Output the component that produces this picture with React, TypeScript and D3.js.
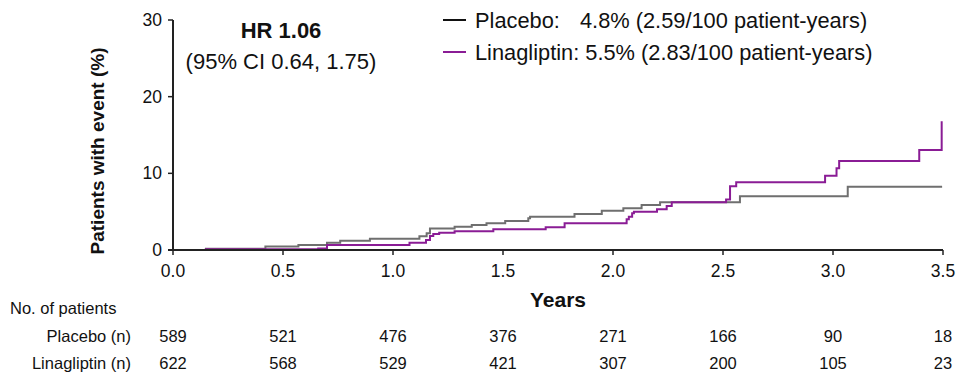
import React from "react";
import * as d3 from "d3";

const placeboTimes = [0.145, 0.42, 0.57, 0.70, 0.76, 0.895, 1.12, 1.153, 1.168, 1.28, 1.358, 1.425, 1.51, 1.615, 1.623, 1.825, 1.949, 2.047, 2.13, 2.214, 2.577, 3.067, 3.496];
const placeboPct = [0.15, 0.45, 0.65, 0.95, 1.2, 1.48, 1.8, 2.2, 2.8, 3.04, 3.26, 3.48, 3.78, 4.13, 4.35, 4.7, 5.13, 5.45, 5.87, 6.22, 7.0, 8.26, 8.26];

const linaTimes = [0.145, 0.66, 0.70, 1.075, 1.15, 1.168, 1.183, 1.21, 1.28, 1.456, 1.694, 1.78, 2.062, 2.072, 2.087, 2.095, 2.2, 2.244, 2.267, 2.514, 2.532, 2.56, 2.964, 3.016, 3.028, 3.392, 3.494];
const linaPct = [0.1, 0.2, 0.65, 0.96, 1.3, 1.83, 2.1, 2.26, 2.45, 2.7, 2.96, 3.5, 4.0, 4.35, 4.78, 5.0, 5.3, 5.74, 6.22, 6.6, 8.3, 8.85, 9.7, 10.65, 11.6, 13.04, 16.8];

const xTicks = [0, 0.5, 1.0, 1.5, 2.0, 2.5, 3.0, 3.5];
const yTicks = [0, 10, 20, 30];
const placeboAtRisk = [589, 521, 476, 376, 271, 166, 90, 18];
const linaAtRisk = [622, 568, 529, 421, 307, 200, 105, 23];

const GRAY = "#6f6f6f";
const PURPLE = "#8a1c95";
const FONT = "Liberation Sans, Arial, sans-serif";

export default function App() {
  const W = 968, H = 373;
  const x = d3.scaleLinear().domain([0, 3.5]).range([173, 943]);
  const y = d3.scaleLinear().domain([0, 30]).range([250, 20]);
  const line = d3
    .line<[number, number]>()
    .x((d) => x(d[0]))
    .y((d) => y(d[1]))
    .curve(d3.curveStepAfter);
  const pl = placeboTimes.map((t, i) => [t, placeboPct[i]] as [number, number]);
  const li = linaTimes.map((t, i) => [t, linaPct[i]] as [number, number]);

  return (
    <div style={{ position: "absolute", left: 0, top: 0 }}>
      <svg width={W} height={H} style={{ display: "block", background: "#fff" }} fontFamily={FONT}>
        {/* curves */}
        <path d={line(pl) || ""} fill="none" stroke={GRAY} strokeWidth={2} />
        <path d={line(li) || ""} fill="none" stroke={PURPLE} strokeWidth={2} />

        {/* y axis */}
        <line x1={x(0)} x2={x(0)} y1={y(30)} y2={y(0)} stroke="#222" strokeWidth={2} />
        {yTicks.map((v) => (
          <g key={"y" + v}>
            <line x1={x(0) - 5} x2={x(0)} y1={y(v)} y2={y(v)} stroke="#222" strokeWidth={1.5} />
            <text x={x(0) - 11} y={y(v)} dy="0.35em" textAnchor="end" fontSize={17.5} fill="#111">
              {v}
            </text>
          </g>
        ))}
        {/* x axis */}
        <line x1={x(0) - 5} x2={x(3.5)} y1={y(0)} y2={y(0)} stroke="#222" strokeWidth={2} />
        {xTicks.map((v) => (
          <g key={"x" + v}>
            <line x1={x(v)} x2={x(v)} y1={y(0)} y2={y(0) + 5} stroke="#222" strokeWidth={1.5} />
            <text x={x(v)} y={277} textAnchor="middle" fontSize={17.5} fill="#111">
              {v.toFixed(1)}
            </text>
          </g>
        ))}

        {/* axis titles */}
        <text
          transform={`translate(104, ${(y(0) + y(30)) / 2 + 16}) rotate(-90)`}
          textAnchor="middle"
          fontSize={19}
          fontWeight="bold"
          fill="#111"
        >
          Patients with event (%)
        </text>
        <text x={558} y={307} textAnchor="middle" fontSize={21} fontWeight="bold" fill="#111">
          Years
        </text>

        {/* HR annotation */}
        <text x={281} y={38} textAnchor="middle" fontSize={22} fontWeight="bold" fill="#111">
          HR 1.06
        </text>
        <text x={281} y={69} textAnchor="middle" fontSize={22} fill="#111">
          (95% CI 0.64, 1.75)
        </text>

        {/* legend */}
        <line x1={443} x2={466} y1={20} y2={20} stroke="#111" strokeWidth={2} />
        <text x={475} y={28} fontSize={21.8} fill="#111">Placebo:</text>
        <text x={580} y={28} fontSize={21.8} fill="#111">4.8% (2.59/100 patient-years)</text>
        <line x1={443} x2={466} y1={52} y2={52} stroke={PURPLE} strokeWidth={2} />
        <text x={475} y={60} fontSize={21.8} fill="#111">Linagliptin: 5.5% (2.83/100 patient-years)</text>

        {/* at-risk table */}
        <text x={10} y={314} fontSize={16.5} fill="#111">No. of patients</text>
        <text x={131} y={342} textAnchor="end" fontSize={16.5} fill="#111">Placebo (n)</text>
        <text x={131} y={369} textAnchor="end" fontSize={16.5} fill="#111">Linagliptin (n)</text>
        {placeboAtRisk.map((n, i) => (
          <text key={"p" + i} x={x(xTicks[i])} y={342} textAnchor="middle" fontSize={16.5} fill="#111">
            {n}
          </text>
        ))}
        {linaAtRisk.map((n, i) => (
          <text key={"l" + i} x={x(xTicks[i])} y={369} textAnchor="middle" fontSize={16.5} fill="#111">
            {n}
          </text>
        ))}
      </svg>
    </div>
  );
}
